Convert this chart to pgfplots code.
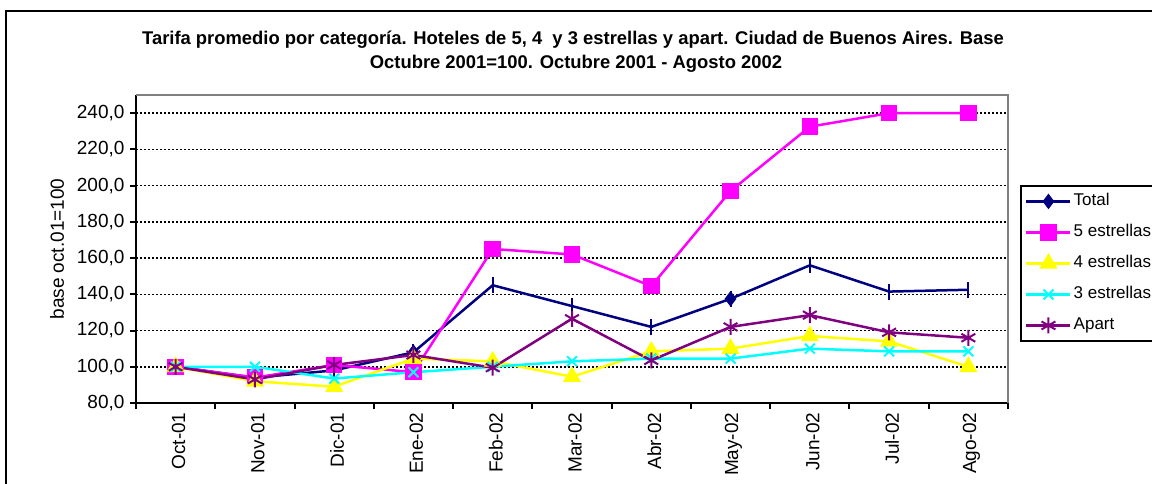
\documentclass[border=0pt]{standalone}
\usepackage{fontspec}
\setmainfont{Liberation Sans}
\usepackage{pgfplots}
\pgfplotsset{compat=1.18}
\definecolor{cnavy}{RGB}{0,0,128}
\definecolor{cmag}{RGB}{255,0,255}
\definecolor{cyel}{RGB}{255,255,0}
\definecolor{ccyan}{RGB}{0,255,255}
\definecolor{cpur}{RGB}{128,0,128}
\begin{document}
\begin{tikzpicture}[x=1pt,y=1pt,trim left=0pt,trim right=1152pt]
\fill[white] (0,0) rectangle (1152,483);
\begin{scope}
\clip (0,0) rectangle (1152,483);
\draw[line width=2.5pt] (6,-20) -- (6,472) -- (1200,472);
\end{scope}
\node[font=\bfseries\fontsize{18.4}{22}\selectfont, anchor=base, inner sep=0pt] at (573,438) {Tarifa promedio por categoría. Hoteles de 5, 4 \ y 3 estrellas y apart. Ciudad de Buenos Aires. Base};
\node[font=\bfseries\fontsize{18.4}{22}\selectfont, anchor=base, inner sep=0pt] at (576,414) {Octubre 2001=100. Octubre 2001 - Agosto 2002};
\begin{axis}[
  at={(136pt,80pt)}, anchor=south west,
  scale only axis, width=872pt, height=308pt,
  xmin=-0.5, xmax=10.5, ymin=80, ymax=250,
  axis x line*=bottom, axis y line*=left,
  axis line style={line width=2.5pt, black, -},
  xtick={-0.5,0.5,...,10.5},
  x tick label as interval,
  xticklabels={Oct-01,Nov-01,Dic-01,Ene-02,Feb-02,Mar-02,Abr-02,May-02,Jun-02,Jul-02,Ago-02},
  ytick={80,100,...,240},
  tick align=outside,
  major tick length=6pt,
  tick style={line width=2pt, black},
  ymajorgrids,
  major grid style={dash pattern=on 2pt off 2pt, line width=1.5pt, black},
  yticklabel style={font=\fontsize{19}{22}\selectfont, xshift=-2pt,
    /pgf/number format/fixed, /pgf/number format/fixed zerofill,
    /pgf/number format/precision=1, /pgf/number format/use comma},
  /pgf/number format/assume math mode=true,
  xticklabel style={font=\fontsize{19}{22}\selectfont, rotate=90, anchor=east, yshift=-3pt},
  ylabel={base oct.01=100},
  ylabel style={at={(axis description cs:-0.0906,0.5)}, anchor=center, font=\fontsize{19}{22}\selectfont},
  legend style={at={(axis description cs:1.014,0.708)}, anchor=north west, draw=black, line width=2pt, fill=white,
    font=\fontsize{17}{20}\selectfont, inner xsep=4pt, inner ysep=5pt, row sep=10pt,
    nodes={inner sep=2pt, text height=13pt, text depth=4pt}},
  legend cell align=left,
  legend image code/.code={\draw[mark repeat=2,mark phase=2,#1] plot coordinates {(0pt,0pt) (22pt,0pt) (44pt,0pt)};},
  after end axis/.code={\draw[line width=2pt, gray] (rel axis cs:0,1) -- (rel axis cs:1,1) -- (rel axis cs:1,0);},
]
\addlegendimage{cnavy, line width=2.5pt, mark=diamond*, mark size=7pt, mark options={solid, line width=1pt}}
\addlegendentry{Total}
\addplot[cnavy, line width=2.5pt, mark=|, mark size=8pt, mark options={solid, line width=2pt}, forget plot] coordinates {
(0,100) (1,94) (2,98) (3,108) (4,145) (5,133.5) (6,122) (7,137.5) (8,156) (9,141.5) (10,142.5)};
\addplot[cnavy, only marks, mark=diamond*, mark size=7pt, mark options={solid, line width=1pt}, forget plot] coordinates {
(3,108) (7,137.5)};
\addplot[cmag, line width=2.5pt, mark=square*, mark size=7pt, mark options={solid}] coordinates {
(0,100) (1,94) (2,101) (3,97) (4,165) (5,162) (6,144.5) (7,197) (8,232.5) (9,240) (10,240)};
\addlegendentry{5 estrellas}
\addplot[cyel, line width=2.5pt, mark=triangle*, mark size=8pt, mark options={solid}] coordinates {
(0,100) (1,92) (2,89) (3,104.5) (4,103) (5,94.5) (6,108.5) (7,110) (8,117) (9,114) (10,100)};
\addlegendentry{4 estrellas}
\addplot[ccyan, line width=2.5pt, mark=x, mark size=7pt, mark options={solid, line width=2pt}] coordinates {
(0,100) (1,100) (2,93.5) (3,97) (4,100) (5,103) (6,104.5) (7,104.5) (8,110) (9,108.5) (10,108.5)};
\addlegendentry{3 estrellas}
\addplot[cpur, line width=2.5pt, mark=asterisk, mark size=8pt, mark options={solid, line width=2pt}] coordinates {
(0,100) (1,93) (2,101) (3,106.5) (4,99.5) (5,126.5) (6,103.5) (7,122) (8,128.5) (9,119) (10,116)};
\addlegendentry{Apart}
\end{axis}
\end{tikzpicture}
\end{document}
